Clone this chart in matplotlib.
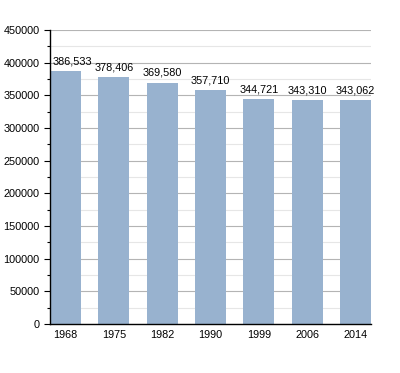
import matplotlib.pyplot as plt
from matplotlib.ticker import MultipleLocator

years = ['1968', '1975', '1982', '1990', '1999', '2006', '2014']
population = [386533, 378406, 369580, 357710, 344721, 343310, 343062]

plt.rcParams['font.family'] = ['Liberation Sans', 'DejaVu Sans']

fig = plt.figure(figsize=(4, 3.73), dpi=100)
ax = fig.add_axes([0.125, 0.1314, 0.8025, 0.7882])

x = list(range(len(years)))
bar_w = 0.64
ax.bar(x, population, width=bar_w, color='#98b2cf', zorder=2)

# value labels above the bars (first one kept clear of the axis)
for xi, v in zip(x, population):
    if xi == 0:
        ax.text(xi - bar_w / 2 + 0.05, v + 7000, f'{v:,}', ha='left', va='bottom', fontsize=7.8)
    else:
        ax.text(xi, v + 7000, f'{v:,}', ha='center', va='bottom', fontsize=7.8)

ax.set_xlim(-bar_w / 2, len(years) - 1 + bar_w / 2)
ax.set_ylim(0, 450000)
ax.set_xticks(x)
ax.set_xticklabels(years, fontsize=7.8)
ax.yaxis.set_major_locator(MultipleLocator(50000))
ax.yaxis.set_minor_locator(MultipleLocator(25000))
ax.tick_params(axis='y', labelsize=7.8, length=4, width=0.8)
ax.tick_params(axis='y', which='minor', length=2, width=0.8)
ax.tick_params(axis='x', length=0, pad=4)

ax.grid(axis='y', which='major', color='#b4b4b4', linewidth=0.8, zorder=0)
ax.grid(axis='y', which='minor', color='#e6e6e6', linewidth=0.8, zorder=0)
ax.set_axisbelow(True)

for s in ['top', 'right']:
    ax.spines[s].set_visible(False)
ax.spines['left'].set_linewidth(1)
ax.spines['bottom'].set_linewidth(1)

fig.savefig('out.png', dpi=100)
